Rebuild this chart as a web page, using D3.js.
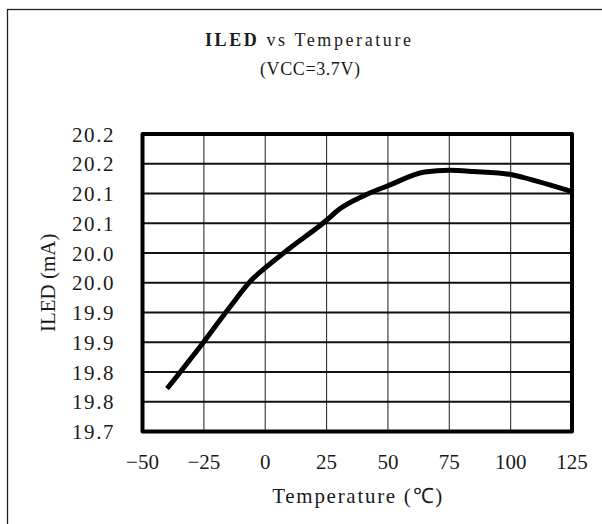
<!DOCTYPE html>
<html>
<head>
<meta charset="utf-8">
<script src="https://cdn.jsdelivr.net/npm/d3@7"></script>
<style>
  html, body { margin: 0; padding: 0; background: #fff; }
  svg { display: block; }
  text { font-family: "Liberation Serif", "Times New Roman", serif; fill: #1a1a1a; }
</style>
</head>
<body>
<script>
// values
const temps = [-40, -25, -15, -5, 0, 10, 25, 30, 40, 50, 65, 75, 85, 100, 105, 125];
const iled = [19.772, 19.851, 19.906, 19.957, 19.975, 20.008, 20.055, 20.073,
              20.096, 20.113, 20.136, 20.139, 20.137, 20.132, 20.127, 20.103];

const xTicks = [-50, -25, 0, 25, 50, 75, 100, 125];
const yTicks = [19.70, 19.75, 19.80, 19.85, 19.90, 19.95, 20.00, 20.05, 20.10, 20.15, 20.20];
const yTickLabels = ["19.7", "19.8", "19.8", "19.9", "19.9", "20.0", "20.0", "20.1", "20.1", "20.2", "20.2"];

const width = 602, height = 524;
const plot = { left: 142.5, right: 572, top: 134, bottom: 431.5 };

const svg = d3.select("body").append("svg")
  .attr("width", width)
  .attr("height", height);

// outer frame (only top and left edges fall inside the picture)
svg.append("rect")
  .attr("x", 7.5).attr("y", 9.5)
  .attr("width", 700).attr("height", 700)
  .attr("fill", "none")
  .attr("stroke", "#222")
  .attr("stroke-width", 1.3);

const x = d3.scaleLinear().domain([-50, 125]).range([plot.left, plot.right]);
const y = d3.scaleLinear().domain([19.7, 20.2]).range([plot.bottom, plot.top]);

// grid
svg.append("g").selectAll("line").data(xTicks.slice(1, -1))
  .enter().append("line")
  .attr("x1", d => x(d)).attr("x2", d => x(d))
  .attr("y1", plot.top).attr("y2", plot.bottom)
  .attr("stroke", "#333").attr("stroke-width", 1.1);

svg.append("g").selectAll("line").data(yTicks.slice(1, -1))
  .enter().append("line")
  .attr("x1", plot.left).attr("x2", plot.right)
  .attr("y1", d => y(d)).attr("y2", d => y(d))
  .attr("stroke", "#111").attr("stroke-width", 2);

// data line
const line = d3.line()
  .x((d, i) => x(temps[i]))
  .y(d => y(d))
  .curve(d3.curveMonotoneX);

svg.append("path")
  .datum(iled)
  .attr("d", line)
  .attr("fill", "none")
  .attr("stroke", "#000")
  .attr("stroke-width", 5);

// plot frame
svg.append("rect")
  .attr("x", plot.left).attr("y", plot.top)
  .attr("width", plot.right - plot.left)
  .attr("height", plot.bottom - plot.top)
  .attr("fill", "none")
  .attr("stroke", "#000")
  .attr("stroke-width", 4)
  .attr("stroke-linejoin", "round");

// y tick labels
svg.append("g").selectAll("text").data(yTicks)
  .enter().append("text")
  .attr("x", 113.5)
  .attr("y", d => y(d))
  .attr("dy", "0.36em")
  .attr("text-anchor", "end")
  .attr("font-size", 21)
  .attr("textLength", 41.5)
  .attr("lengthAdjust", "spacing")
  .text((d, i) => yTickLabels[i]);

// x tick labels
const fmt = d3.format("d");
svg.append("g").selectAll("text").data(xTicks)
  .enter().append("text")
  .attr("x", d => x(d))
  .attr("y", 469)
  .attr("text-anchor", "middle")
  .attr("font-size", 21)
  .text(d => fmt(d));

// titles
const title = svg.append("text")
  .attr("x", 308).attr("y", 46)
  .attr("text-anchor", "middle")
  .attr("font-size", 18)
  .attr("textLength", 206)
  .attr("lengthAdjust", "spacing");
title.append("tspan").attr("font-weight", "bold").text("ILED");
title.append("tspan").text(" vs Temperature");

svg.append("text")
  .attr("x", 310).attr("y", 75)
  .attr("text-anchor", "middle")
  .attr("font-size", 18)
  .attr("textLength", 100)
  .attr("lengthAdjust", "spacing")
  .text("(VCC=3.7V)");

svg.append("text")
  .attr("x", (plot.left + plot.right) / 2).attr("y", 503)
  .attr("text-anchor", "middle")
  .attr("font-size", 21)
  .attr("textLength", 170)
  .attr("lengthAdjust", "spacing")
  .text("Temperature (℃)");

svg.append("text")
  .attr("transform", "translate(48," + ((plot.top + plot.bottom) / 2) + ") rotate(-90)")
  .attr("text-anchor", "middle")
  .attr("dy", "0.35em")
  .attr("font-size", 21)
  .text("ILED (mA)");
</script>
</body>
</html>
